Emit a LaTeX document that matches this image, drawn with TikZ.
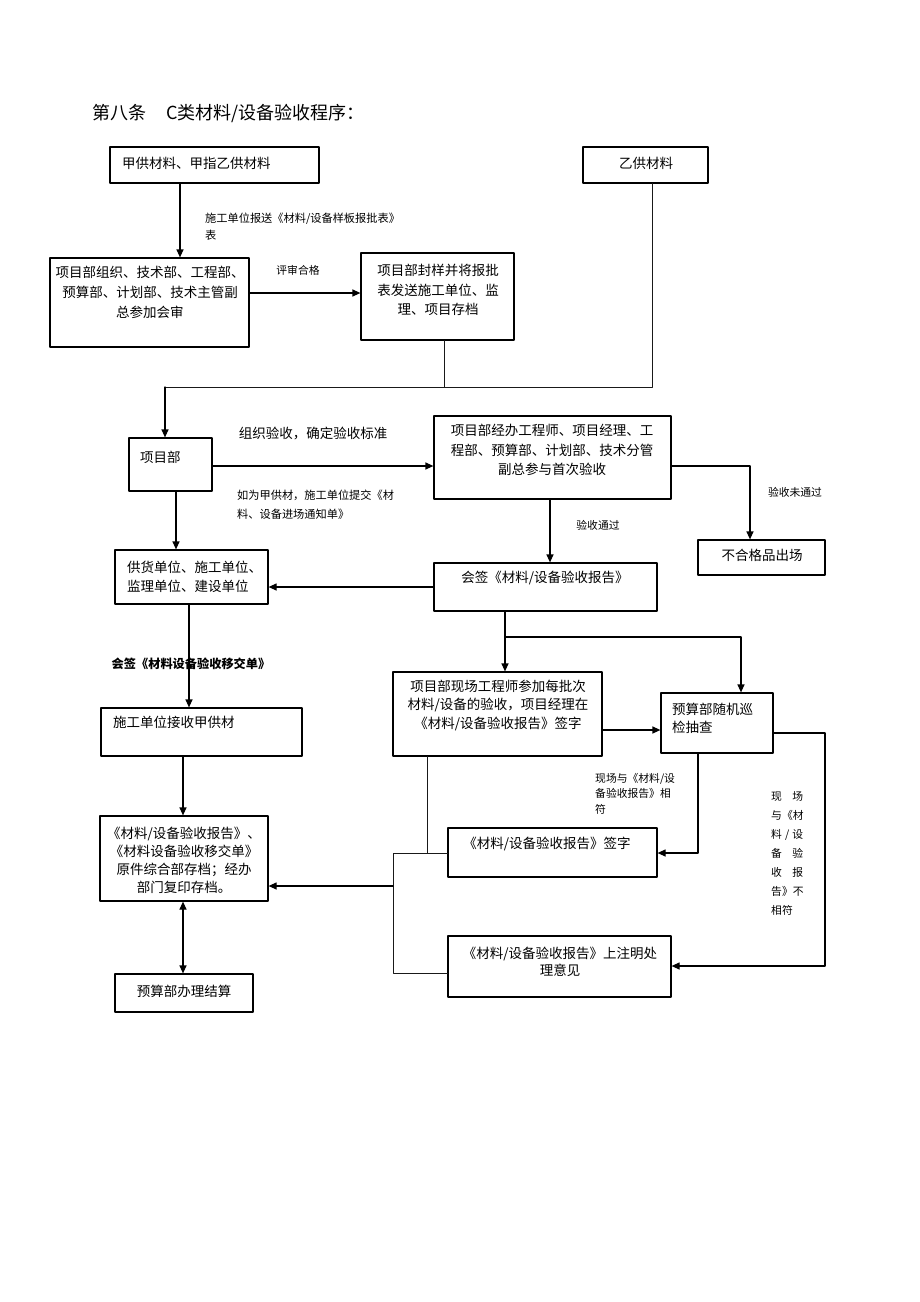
\documentclass[tikz,border=0pt]{standalone}
\usepackage{fontspec}
\usepackage{tikz}
\newfontfamily\cjk{Noto Sans CJK SC}
\usetikzlibrary{arrows.meta}
\usetikzlibrary{positioning}
\definecolor{lngray}{rgb}{0.1,0.1,0.1}
\tikzstyle{every node}=[font=\cjk]
\tikzstyle{box}=[draw,line width=1.2pt,inner sep=0pt]
\tikzstyle{txt}=[font=\cjk\fontsize{13.5}{19.5}\selectfont,align=center,inner sep=0pt]
\tikzstyle{small}=[font=\cjk\fontsize{10.8}{17}\selectfont,align=left,inner sep=0pt]
\tikzstyle{flow}=[->,line width=1.2pt]
\tikzstyle{link}=[line width=0.9pt,color=lngray]

\begin{document}
\begin{tikzpicture}[line cap=round,line join=round,>={Triangle[length=8pt,width=7pt]},x=1pt,y=-1pt]
\useasboundingbox (0,0) rectangle (920,1302);
\node[anchor=west,inner sep=0pt,font=\cjk\fontsize{18}{20}\selectfont] (title) at (92,113) {第八条\hspace{20pt}C类材料/设备验收程序：};
% boxes
\node[box,minimum width=209pt,minimum height=36pt] (A) at (214.5,165) {};
\node[txt,anchor=west] (At) at (122,163) {甲供材料、甲指乙供材料};
\node[box,minimum width=125pt,minimum height=36pt] (B) at (645.5,165) {};
\node[txt] (Bt) at (646,163) {乙供材料};
\node[box,minimum width=199pt,minimum height=89pt] (C) at (149.5,302.5) {};
\node[txt,font=\cjk\fontsize{13.5}{20}\selectfont] (Ct) at (150,292) {项目部组织、技术部、工程部、\\预算部、计划部、技术主管副\\总参加会审};
\node[box,minimum width=153pt,minimum height=87pt] (D) at (437.5,296.5) {};
\node[txt] (Dt) at (438,290) {项目部封样并将报批\\表发送施工单位、监\\理、项目存档};
\node[box,minimum width=83pt,minimum height=53pt] (E) at (170.5,464.5) {};
\node[txt,anchor=west] (Et) at (140,457) {项目部};
\node[box,minimum width=237pt,minimum height=83pt] (F) at (552.5,457.5) {};
\node[txt] (Ft) at (552,450) {项目部经办工程师、项目经理、工\\程部、预算部、计划部、技术分管\\副总参与首次验收};
\node[box,minimum width=127pt,minimum height=35pt] (G) at (761.5,557.5) {};
\node[txt] (Gt) at (762,555) {不合格品出场};
\node[box,minimum width=223pt,minimum height=48pt] (H) at (545.5,587) {};
\node[txt] (Ht) at (545,578) {会签《材料/设备验收报告》};
\node[box,minimum width=153pt,minimum height=54pt] (I) at (191.5,577) {};
\node[txt,anchor=west,align=left] (It) at (127,577) {供货单位、施工单位、\\监理单位、建设单位};
\node[box,minimum width=201pt,minimum height=48pt] (J) at (201.5,732) {};
\node[txt,anchor=west] (Jt) at (113,722) {施工单位接收甲供材};
\node[box,minimum width=168pt,minimum height=85pt] (K) at (184,858.5) {};
\node[txt,font=\cjk\fontsize{13.5}{18}\selectfont] (Kt) at (184,860) {《材料/设备验收报告》、\\《材料设备验收移交单》\\原件综合部存档；经办\\部门复印存档。};
\node[box,minimum width=138pt,minimum height=38pt] (L) at (184,993) {};
\node[txt] (Lt) at (184,991) {预算部办理结算};
\node[box,minimum width=209pt,minimum height=84pt] (M) at (497.5,714) {};
\node[txt,font=\cjk\fontsize{13.5}{18.5}\selectfont] (Mt) at (498,705) {项目部现场工程师参加每批次\\材料/设备的验收，项目经理在\\《材料/设备验收报告》签字};
\node[box,minimum width=112pt,minimum height=60pt] (N) at (717,723) {};
\node[txt,anchor=west,align=left,font=\cjk\fontsize{13.5}{18}\selectfont] (Nt) at (672,718) {预算部随机巡\\检抽查};
\node[box,minimum width=209pt,minimum height=49pt] (O) at (552.5,852.5) {};
\node[txt] (Ot) at (547,844) {《材料/设备验收报告》签字};
\node[box,minimum width=223pt,minimum height=61pt] (P) at (559.5,966.5) {};
\node[txt,font=\cjk\fontsize{13.5}{17.5}\selectfont] (Pt) at (560,962) {《材料/设备验收报告》上注明处\\理意见};
% labels
\node[small,anchor=west,font=\cjk\fontsize{11.2}{17}\selectfont] (lAC) at (205,226.5) {施工单位报送《材料/设备样板报批表》\\表};
\node[small] (lCD) at (298,270) {评审合格};
\node[txt] (lEF) at (313,433) {组织验收，确定验收标准};
\node[small,anchor=west,font=\cjk\fontsize{11.2}{19}\selectfont] (lEF2) at (237,504.5) {如为甲供材，施工单位提交《材\\料、设备进场通知单》};
\node[small] (lFG) at (795,492) {验收未通过};
\node[small] (lFH) at (598,525) {验收通过};
\node[inner sep=0pt,font=\cjk\bfseries\fontsize{12.2}{14}\selectfont] (lIJ) at (191,664) {会签《材料设备验收移交单》};
\node[small,anchor=north west,font=\cjk\fontsize{10.8}{15.5}\selectfont] (lNO) at (595,773) {现场与《材料/设\\备验收报告》相\\符};
\node[small,anchor=west,font=\cjk\fontsize{10.8}{18.9}\selectfont] (lNP) at (771,853.5) {\makebox[32pt][s]{现\hfil 场}\\\makebox[32pt][s]{与《材}\\\makebox[32pt][s]{料\hfil/\hfil 设}\\\makebox[32pt][s]{备\hfil 验}\\\makebox[32pt][s]{收\hfil 报}\\\makebox[32pt][s]{告》不}\\\makebox[32pt][l]{相符}};
% junctions
\coordinate (jB) at (652,387);
\coordinate (jE) at (165,387);
\coordinate (jH) at (505,637);
\coordinate (jM) at (427,853);
\coordinate (jL) at (393,853);
\coordinate (jP) at (393,973);
\coordinate (jK) at (393,886);
% connectors
\draw[flow] (A.south -| 180,0) -- (C.north -| 180,0);
\draw[flow] (C.east |- 0,293) -- (D.west |- 0,293);
\draw[link] (B.south -| jB) -- (jB) -- (jE);
\draw[link] (D.south -| 444,0) -- (444,387);
\draw[flow] (jE) -- (E.north -| jE);
\draw[flow] (E.east |- 0,466) -- (F.west |- 0,466);
\draw[flow] (F.east |- 0,466) -| (G.north -| 750,0);
\draw[flow] (F.south -| 550,0) -- (H.north -| 550,0);
\draw[flow] (H.west |- 0,587) -- (I.east |- 0,587);
\draw[flow] (E.south -| 176,0) -- (I.north -| 176,0);
\draw[flow] (I.south -| 189,0) -- (J.north -| 189,0);
\draw[flow] (J.south -| 183,0) -- (K.north -| 183,0);
\draw[flow,<->] (K.south -| 183,0) -- (L.north -| 183,0);
\draw[flow] (H.south -| jH) -- (jH) -- (M.north -| jH);
\draw[flow] (jH) -| (N.north -| 741,0);
\draw[flow] (M.east |- 0,730) -- (N.west |- 0,730);
\draw[flow] (N.south -| 698,0) |- (O.east |- jM);
\draw[flow] (N.east |- 0,733) -| (825,966) -- (P.east |- 0,966);
\draw[link] (M.south -| jM) -- (jM);
\draw[link] (O.west |- jL) -- (jL) -- (jP) -- (P.west |- jP);
\draw[flow] (jK) -- (K.east |- jK);
\end{tikzpicture}
\end{document}
